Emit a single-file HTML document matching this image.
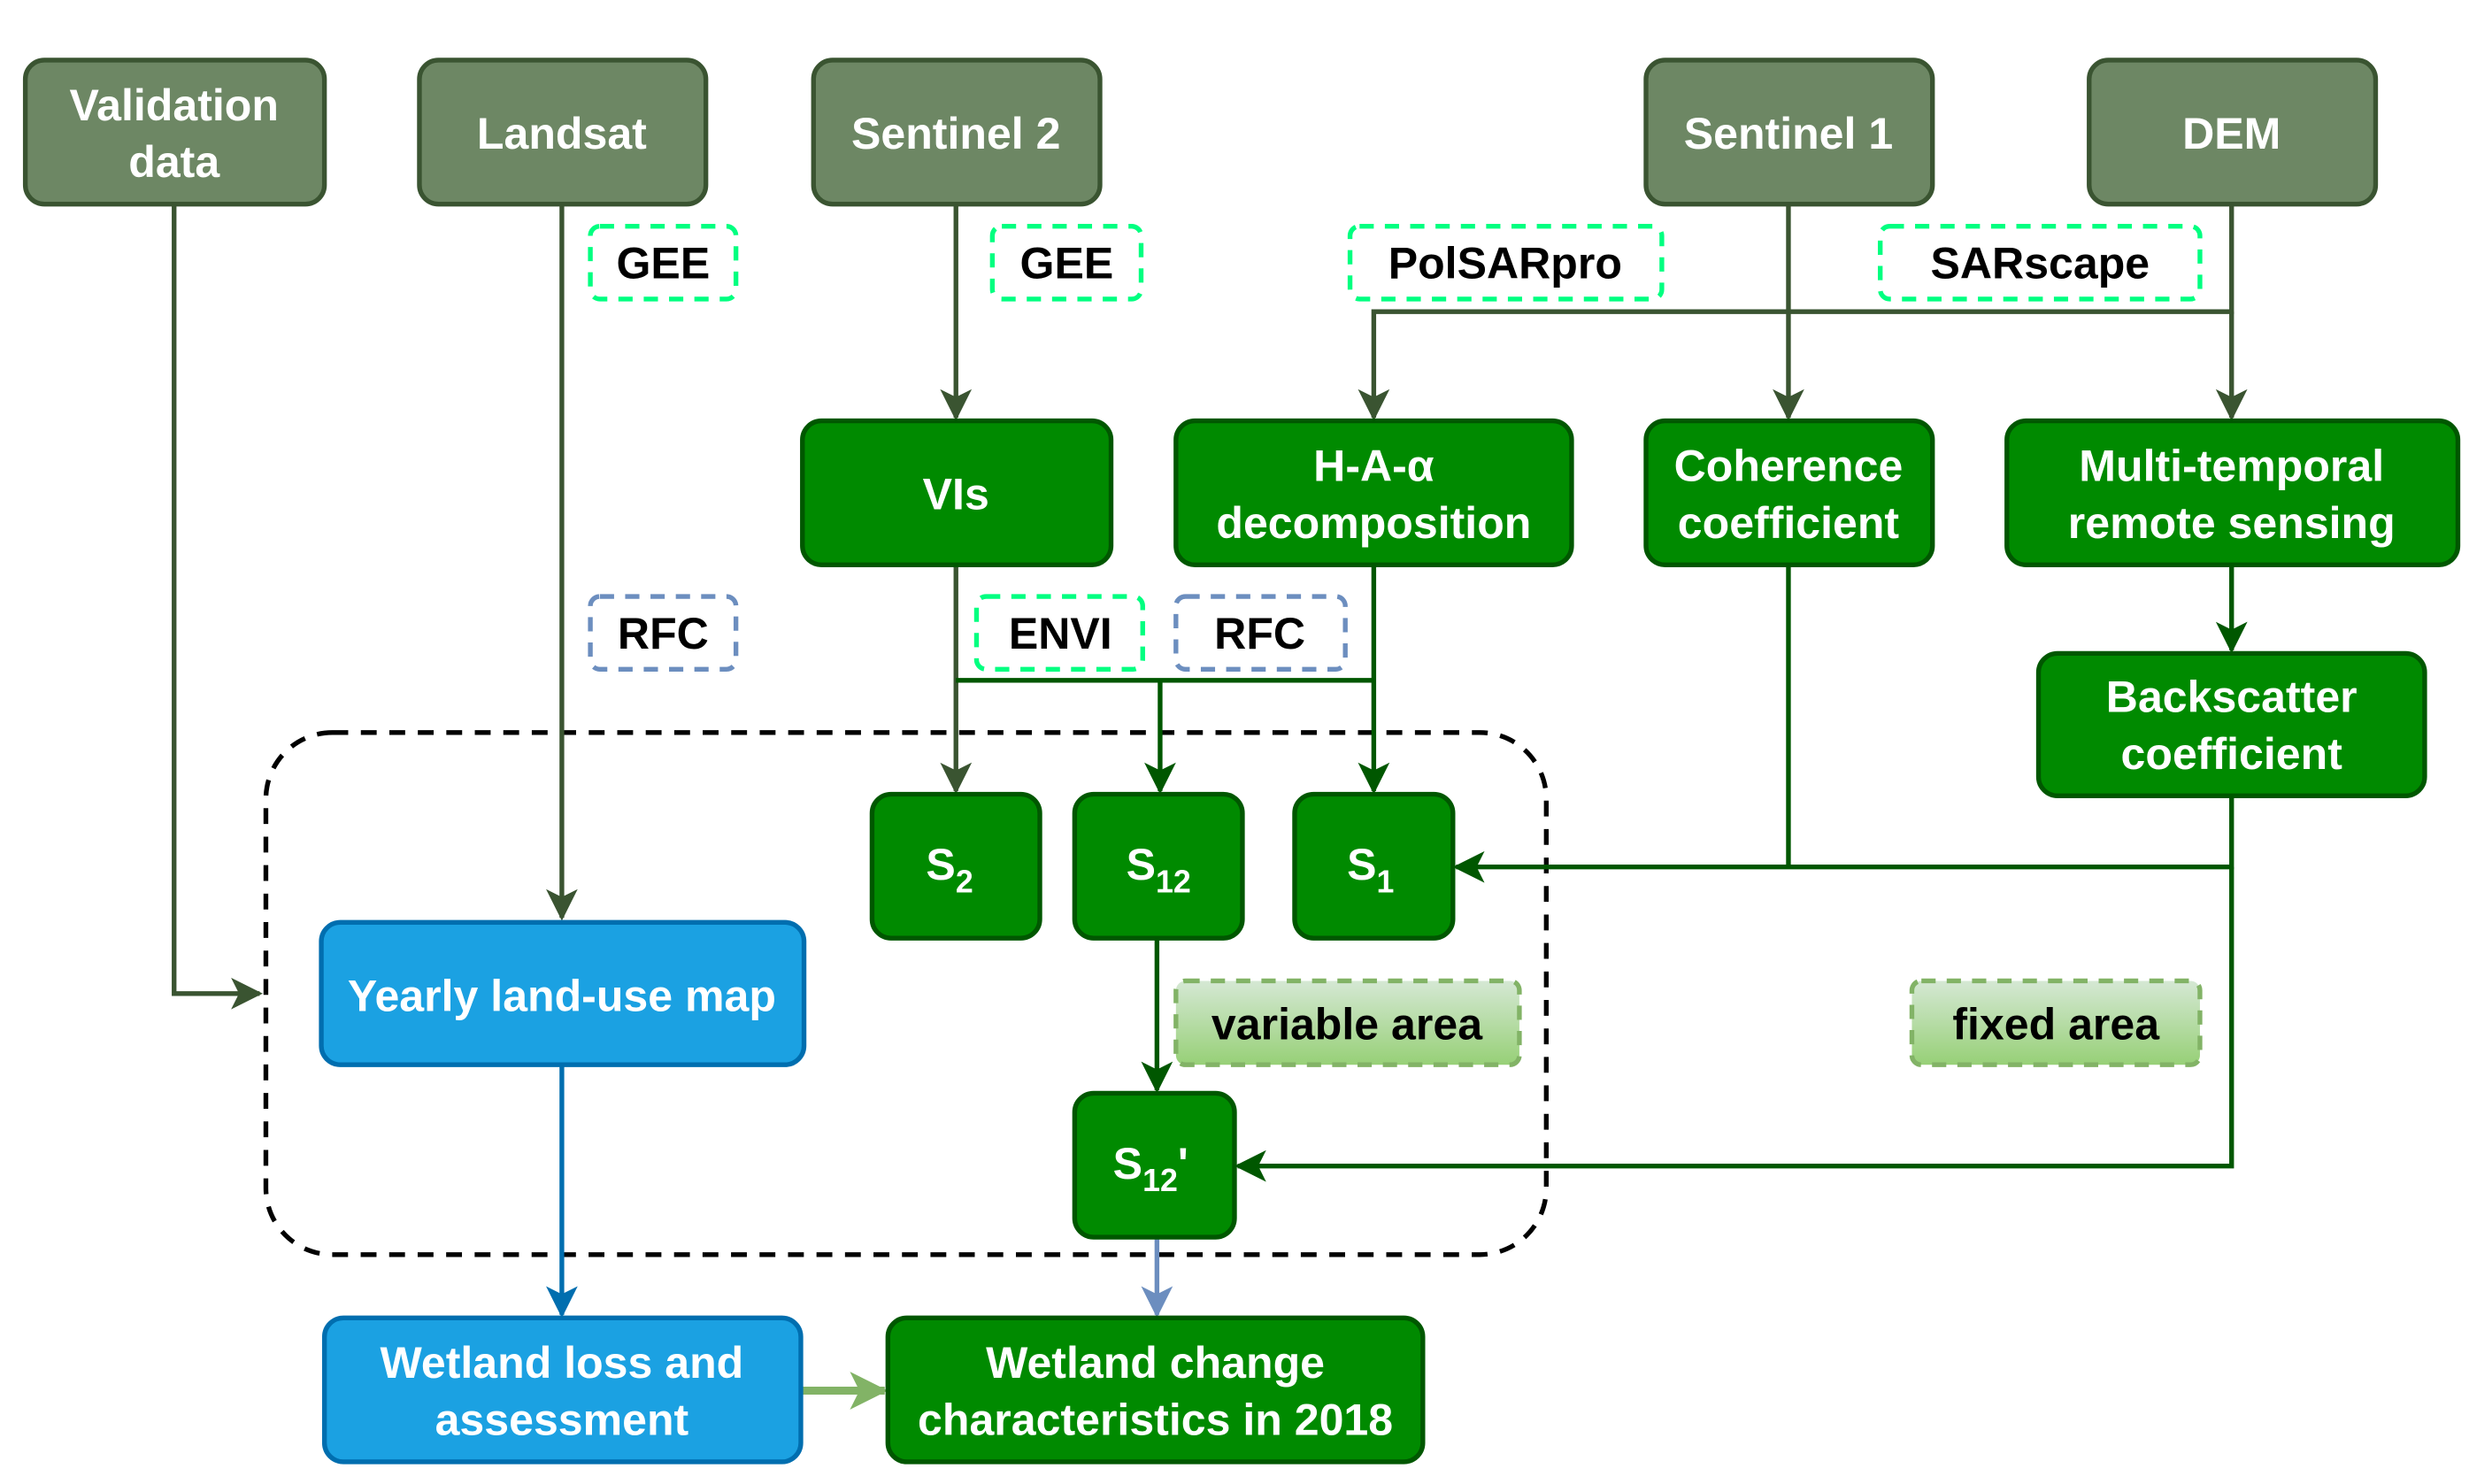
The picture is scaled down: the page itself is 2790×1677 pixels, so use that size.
<!DOCTYPE html>
<html><head><meta charset="utf-8"><style>html,body{margin:0;padding:0;background:#fff}svg{display:block}</style></head>
<body>
<svg width="2790" height="1677" viewBox="0 0 1560 938" preserveAspectRatio="none" xmlns="http://www.w3.org/2000/svg" font-family="Liberation Sans, Arial, sans-serif" font-weight="bold">
<defs>
<marker id="ad" markerWidth="8" markerHeight="8" refX="7" refY="4" orient="auto" markerUnits="userSpaceOnUse" viewBox="0 0 8 8"><path d="M0,0 L8,4 L0,8 L2,4 Z" fill="#3a5431"/></marker>
<marker id="ag" markerWidth="20" markerHeight="20" refX="18" refY="10" orient="auto" markerUnits="userSpaceOnUse"><path d="M0,0 L20,10 L0,20 L5,10 Z" fill="#005700"/></marker>
<marker id="aD" markerWidth="20" markerHeight="20" refX="18" refY="10" orient="auto" markerUnits="userSpaceOnUse"><path d="M0,0 L20,10 L0,20 L5,10 Z" fill="#3a5431"/></marker>
<marker id="ab" markerWidth="20" markerHeight="20" refX="18" refY="10" orient="auto" markerUnits="userSpaceOnUse"><path d="M0,0 L20,10 L0,20 L5,10 Z" fill="#006eaf"/></marker>
<marker id="al" markerWidth="20" markerHeight="20" refX="18" refY="10" orient="auto" markerUnits="userSpaceOnUse"><path d="M0,0 L20,10 L0,20 L5,10 Z" fill="#6c8ebf"/></marker>
<marker id="ap" markerWidth="24" markerHeight="24" refX="22" refY="12" orient="auto" markerUnits="userSpaceOnUse"><path d="M0,0 L24,12 L0,24 L6,12 Z" fill="#82b366"/></marker>
<linearGradient id="lg" x1="0" y1="0" x2="0" y2="1"><stop offset="0" stop-color="#d5e8d4"/><stop offset="1" stop-color="#97d077"/></linearGradient>
</defs>

<!-- dashed group -->
<rect x="168" y="463" width="809" height="330" rx="42" fill="none" stroke="#000" stroke-width="3" stroke-dasharray="10,8"/>

<!-- connectors -->
<g fill="none" stroke-width="3">
<path d="M110,129 V628 H164" stroke="#3a5431" marker-end="url(#aD)"/>
<path d="M355,129 V580" stroke="#3a5431" marker-end="url(#aD)"/>
<path d="M604,129 V264" stroke="#3a5431" marker-end="url(#aD)"/>
<path d="M1410,129 V197 H868 V264" stroke="#3a5431" marker-end="url(#aD)"/>
<path d="M1130,129 V264" stroke="#3a5431" marker-end="url(#aD)"/>
<path d="M1410,197 V264" stroke="#3a5431" marker-end="url(#aD)"/>
<path d="M604,357 V500" stroke="#3a5431" marker-end="url(#aD)"/>
<path d="M604,430 H868" stroke="#005700"/>
<path d="M868,357 V500" stroke="#005700" marker-end="url(#ag)"/>
<path d="M733,430 V500" stroke="#005700" marker-end="url(#ag)"/>
<path d="M1410,357 V411" stroke="#005700" marker-end="url(#ag)"/>
<path d="M1130,357 V548" stroke="#005700"/>
<path d="M1410,503 V548 H920" stroke="#005700" marker-end="url(#ag)"/>
<path d="M1410,548 V737 H782" stroke="#005700" marker-end="url(#ag)"/>
<path d="M731,593 V689" stroke="#005700" marker-end="url(#ag)"/>
<path d="M355,673 V831" stroke="#006eaf" marker-end="url(#ab)"/>
<path d="M731,782 V831" stroke="#6c8ebf" marker-end="url(#al)"/>
<path d="M506,879 H559" stroke="#82b366" stroke-width="5" marker-end="url(#ap)"/>
</g>

<!-- source boxes -->
<g fill="#6d8764" stroke="#3a5431" stroke-width="3">
<rect x="16" y="38" width="189" height="91" rx="12"/>
<rect x="265" y="38" width="181" height="91" rx="12"/>
<rect x="514" y="38" width="181" height="91" rx="12"/>
<rect x="1040" y="38" width="181" height="91" rx="12"/>
<rect x="1320" y="38" width="181" height="91" rx="12"/>
</g>
<!-- green boxes -->
<g fill="#008a00" stroke="#005700" stroke-width="3">
<rect x="507" y="266" width="195" height="91" rx="12"/>
<rect x="743" y="266" width="250" height="91" rx="12"/>
<rect x="1040" y="266" width="181" height="91" rx="12"/>
<rect x="1268" y="266" width="285" height="91" rx="12"/>
<rect x="1288" y="413" width="244" height="90" rx="12"/>
<rect x="551" y="502" width="106" height="91" rx="12"/>
<rect x="679" y="502" width="106" height="91" rx="12"/>
<rect x="818" y="502" width="100" height="91" rx="12"/>
<rect x="679" y="691" width="101" height="91" rx="12"/>
<rect x="561" y="833" width="338" height="91" rx="12"/>
</g>
<g fill="#1ba1e2" stroke="#006eaf" stroke-width="3">
<rect x="203" y="583" width="305" height="90" rx="12"/>
<rect x="205" y="833" width="301" height="91" rx="12"/>
</g>
<!-- tool labels -->
<g fill="#fff" stroke-width="3" stroke-dasharray="9,7">
<rect x="373" y="143" width="92" height="46" rx="6" stroke="#00ff80"/>
<rect x="627" y="143" width="94" height="46" rx="6" stroke="#00ff80"/>
<rect x="853" y="143" width="197" height="46" rx="6" stroke="#00ff80"/>
<rect x="1188" y="143" width="202" height="46" rx="6" stroke="#00ff80"/>
<rect x="373" y="377" width="92" height="46" rx="6" stroke="#6c8ebf"/>
<rect x="617" y="377" width="105" height="46" rx="6" stroke="#00ff80"/>
<rect x="743" y="377" width="107" height="46" rx="6" stroke="#6c8ebf"/>
<rect x="743" y="620" width="217" height="53" rx="6" stroke="#82b366" fill="url(#lg)"/>
<rect x="1208" y="620" width="182" height="53" rx="6" stroke="#82b366" fill="url(#lg)"/>
</g>

<g fill="#fff" font-size="28" text-anchor="middle">
<text x="110" y="76">Validation</text><text x="110" y="112">data</text>
<text x="355" y="94">Landsat</text>
<text x="604" y="94">Sentinel 2</text>
<text x="1130" y="94">Sentinel 1</text>
<text x="1410" y="94">DEM</text>
<text x="604" y="322">VIs</text>
<text x="868" y="304">H-A-α</text><text x="868" y="340">decomposition</text>
<text x="1130" y="304">Coherence</text><text x="1130" y="340">coefficient</text>
<text x="1410" y="304">Multi-temporal</text><text x="1410" y="340">remote sensing</text>
<text x="1410" y="450">Backscatter</text><text x="1410" y="486">coefficient</text>
<text x="600" y="556">S<tspan font-size="20" dy="8">2</tspan></text>
<text x="732" y="556">S<tspan font-size="20" dy="8">12</tspan></text>
<text x="866" y="556">S<tspan font-size="20" dy="8">1</tspan></text>
<text x="727" y="745">S<tspan font-size="20" dy="8">12</tspan><tspan dy="-8">'</tspan></text>
<text x="355" y="639">Yearly land-use map</text>
<text x="355" y="871">Wetland loss and</text><text x="355" y="907">assessment</text>
<text x="730" y="871">Wetland change</text><text x="730" y="907">characteristics in 2018</text>
</g>
<g fill="#000" font-size="28" text-anchor="middle">
<text x="419" y="176">GEE</text>
<text x="674" y="176">GEE</text>
<text x="951" y="176">PolSARpro</text>
<text x="1289" y="176">SARscape</text>
<text x="419" y="410">RFC</text>
<text x="670" y="410">ENVI</text>
<text x="796" y="410">RFC</text>
<text x="851" y="657">variable area</text>
<text x="1299" y="657">fixed area</text>
</g>
</svg>
</body></html>
